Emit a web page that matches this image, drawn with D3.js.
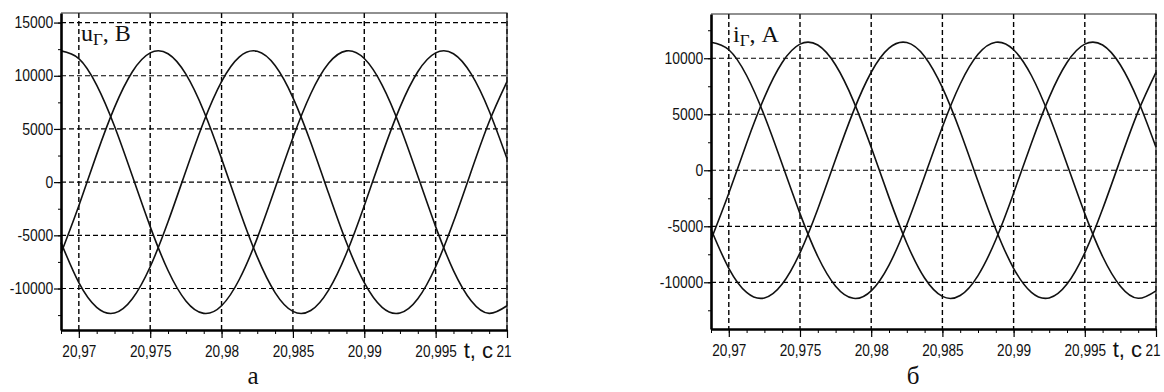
<!DOCTYPE html>
<html>
<head>
<meta charset="utf-8">
<script src="https://cdn.jsdelivr.net/npm/d3@7"></script>
<style>
  body { margin: 0; background: #fff; }
  svg { display: block; }
</style>
</head>
<body>
<script>
const WIDTH = 1164;
const HEIGHT = 392;

// time samples, s
const times = [20.96875, 20.97, 20.97125, 20.9725, 20.97375, 20.975, 20.97625, 20.9775,
  20.97875, 20.98, 20.98125, 20.9825, 20.98375, 20.985, 20.98625, 20.9875, 20.98875,
  20.99, 20.99125, 20.9925, 20.99375, 20.995, 20.99625, 20.9975, 20.99875, 21.0];

// generator voltage, V (three phases)
const uA = [12340, 11620, 9130, 5260, 580, -4180, -8310, -11170, -12340, -11620, -9130, -5260, -580,
  4180, 8310, 11170, 12340, 11620, 9130, 5260, 580, -4180, -8310, -11170, -12340, -11620];
const uB = [-6690, -2210, 2610, 7030, 10380, 12150, 12070, 10150, 6690, 2210, -2610, -7030, -10380,
  -12150, -12070, -10150, -6690, -2210, 2610, 7030, 10380, 12150, 12070, 10150, 6690, 2210];
const uC = [-5680, -9450, -11770, -12300, -10960, -7950, -3730, 1050, 5680, 9450, 11770, 12300, 10960,
  7950, 3730, -1050, -5680, -9450, -11770, -12300, -10960, -7950, -3730, 1050, 5680, 9450];

// generator current, A (three phases)
const iA = [11430, 10760, 8460, 4870, 540, -3870, -7700, -10350, -11430, -10760, -8460, -4870, -540,
  3870, 7700, 10350, 11430, 10760, 8460, 4870, 540, -3870, -7700, -10350, -11430, -10760];
const iB = [-6200, -2050, 2420, 6510, 9620, 11260, 11180, 9400, 6200, 2050, -2420, -6510, -9620,
  -11260, -11180, -9400, -6200, -2050, 2420, 6510, 9620, 11260, 11180, 9400, 6200, 2050];
const iC = [-5260, -8750, -10900, -11400, -10160, -7370, -3460, 980, 5260, 8750, 10900, 11400, 10160,
  7370, 3460, -980, -5260, -8750, -10900, -11400, -10160, -7370, -3460, 980, 5260, 8750];

const xTicks = [20.97, 20.975, 20.98, 20.985, 20.99, 20.995, 21];
const xTickLabels = ["20,97", "20,975", "20,98", "20,985", "20,99", "20,995", "21"];
const uTicks = [-10000, -5000, 0, 5000, 10000, 15000];
const uMinor = [-12500, -10000, -7500, -5000, -2500, 0, 2500, 5000, 7500, 10000, 12500, 15000];
const iTicks = [-10000, -5000, 0, 5000, 10000];
const iMinor = [-12500, -10000, -7500, -5000, -2500, 0, 2500, 5000, 7500, 10000, 12500];

const svg = d3.select("body").append("svg")
    .attr("width", WIDTH)
    .attr("height", HEIGHT);

function drawPanel(p) {
    const x = d3.scaleLinear().domain([20.96875, 21]).range([p.left, p.right]);
    const y = d3.scaleLinear().domain(p.yDomain).range([p.bottom, p.top]);
    const g = svg.append("g");

    // grid
    g.selectAll(".hgrid").data(p.yTicks).join("line")
        .attr("x1", p.left).attr("x2", p.right)
        .attr("y1", d => y(d)).attr("y2", d => y(d))
        .attr("stroke", "#000").attr("stroke-width", 1.2).attr("stroke-dasharray", "5,3");
    g.selectAll(".vgrid").data(xTicks).join("line")
        .attr("x1", d => x(d)).attr("x2", d => x(d))
        .attr("y1", p.top).attr("y2", p.bottom)
        .attr("stroke", "#000").attr("stroke-width", 1.4).attr("stroke-dasharray", "5,3");

    // top / right frame
    g.append("path")
        .attr("d", `M${p.left},${p.top}H${p.right}V${p.bottom}`)
        .attr("fill", "none").attr("stroke", "#222").attr("stroke-width", 1.2);

    // curves
    const line = d3.line().x((d, i) => x(times[i])).y(d => y(d)).curve(d3.curveNatural);
    g.selectAll(".curve").data(p.series).join("path")
        .attr("d", line)
        .attr("fill", "none").attr("stroke", "#111").attr("stroke-width", 1.6);

    // axes
    const yMinorAxis = g.append("g").attr("transform", `translate(${p.left},0)`)
        .call(d3.axisLeft(y).tickValues(p.yMinor).tickSize(3).tickSizeOuter(0).tickFormat(""));
    yMinorAxis.select(".domain").remove();
    const yAxis = g.append("g").attr("transform", `translate(${p.left},0)`)
        .call(d3.axisLeft(y).tickValues(p.yTicks).tickSize(7).tickSizeOuter(0).tickPadding(2)
            .tickFormat(d => String(d)));

    const xMinorAxis = g.append("g").attr("transform", `translate(0,${p.bottom})`)
        .call(d3.axisBottom(x).tickValues(times).tickSize(4).tickSizeOuter(0).tickFormat(""));
    xMinorAxis.select(".domain").remove();
    const xAxis = g.append("g").attr("transform", `translate(0,${p.bottom})`)
        .call(d3.axisBottom(x).tickValues(xTicks).tickSize(8).tickSizeOuter(0).tickPadding(7)
            .tickFormat((d, i) => xTickLabels[i]));

    [yAxis, xAxis].forEach(a => {
        a.select(".domain").attr("stroke", "#000").attr("stroke-width", 2.6);
        a.selectAll(".tick line").attr("stroke", "#000").attr("stroke-width", 1.2);
        a.selectAll("text")
            .attr("fill", "#111")
            .style("font-family", "'Liberation Sans', Arial, sans-serif")
            .style("font-size", "16px");
    });
    [yMinorAxis, xMinorAxis].forEach(a => a.selectAll(".tick line").attr("stroke", "#000"));
    yAxis.selectAll("text").attr("transform", "scale(0.87,1)");
    xAxis.selectAll("text").style("font-size", "17px").attr("transform", "scale(0.8,1)");
    xAxis.selectAll("text").filter((d, i) => xTickLabels[i] === "21")
        .attr("text-anchor", "end").attr("x", 5);

    // axis title "t, c"
    svg.append("text")
        .attr("x", p.right - 14).attr("y", p.bottom + 28)
        .attr("text-anchor", "end")
        .style("font-family", "'Liberation Sans', Arial, sans-serif")
        .style("font-size", "22px").attr("fill", "#111")
        .text("t, c");

    // quantity label
    const t = svg.append("text")
        .attr("x", p.left + p.titleDx).attr("y", p.top + 28)
        .style("font-family", "'Liberation Serif', 'Times New Roman', serif")
        .style("font-size", "24px").attr("fill", "#111");
    t.append("tspan").text(p.title[0]);
    t.append("tspan").attr("dy", 4).style("font-size", "17px").text("Г");
    t.append("tspan").attr("dy", -4).text(p.title[1]);

    // caption
    svg.append("text")
        .attr("x", p.captionX).attr("y", 384)
        .attr("text-anchor", "middle")
        .style("font-family", "'Liberation Serif', 'Times New Roman', serif")
        .style("font-size", "25px").attr("fill", "#111")
        .text(p.caption);
}

drawPanel({
    left: 61, right: 507, top: 13, bottom: 330,
    yDomain: [-13900, 15900], yTicks: uTicks, yMinor: uMinor,
    series: [uA, uB, uC], title: ["u", ", B"], titleDx: 20,
    caption: "а", captionX: 253
});

drawPanel({
    left: 711, right: 1156, top: 14, bottom: 329,
    yDomain: [-14170, 13950], yTicks: iTicks, yMinor: iMinor,
    series: [iA, iB, iC], title: ["i", ", A"], titleDx: 22,
    caption: "б", captionX: 913
});
</script>
</body>
</html>
